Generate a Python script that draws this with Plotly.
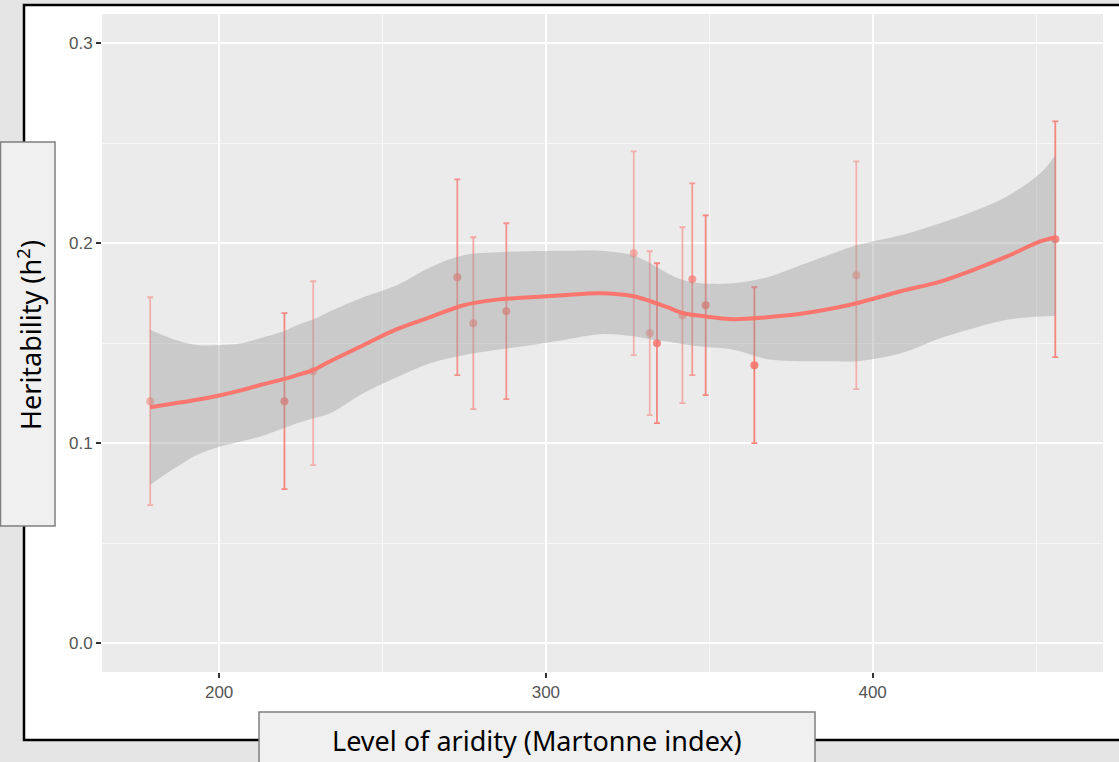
import plotly.graph_objects as go

# ---- data ----
aridity = [178.9, 220.0, 228.8, 272.9, 277.8, 287.9, 326.9, 331.8, 334.0,
           341.8, 344.8, 348.9, 363.8, 395.0, 455.9]
heritability = [0.121, 0.121, 0.136, 0.183, 0.160, 0.166, 0.195, 0.155, 0.150,
                0.164, 0.182, 0.169, 0.139, 0.184, 0.202]
h_low = [0.069, 0.077, 0.089, 0.134, 0.117, 0.122, 0.144, 0.114, 0.110,
         0.120, 0.134, 0.124, 0.100, 0.127, 0.143]
h_high = [0.173, 0.165, 0.181, 0.232, 0.203, 0.210, 0.246, 0.196, 0.190,
          0.208, 0.230, 0.214, 0.178, 0.241, 0.261]

smooth_x = [178.9, 186, 193.2, 200.4, 207, 212.6, 219.7, 223.8, 228.9, 234,
            244.1, 254.4, 264.6, 274.8, 285.1, 295.3, 305, 316.7, 326.8, 332,
            337.2, 342.1, 347.3, 357.4, 367.8, 377.9, 388, 395.1, 408.6, 420.7,
            430.9, 441.1, 451.3, 456]
smooth_fit = [0.1180, 0.1198, 0.1217, 0.1240, 0.1265, 0.1291, 0.1320, 0.1340,
              0.1367, 0.1410, 0.1490, 0.1570, 0.1630, 0.1690, 0.1718, 0.1730,
              0.1740, 0.1750, 0.1735, 0.1710, 0.1680, 0.1650, 0.1637, 0.1620,
              0.1630, 0.1647, 0.1675, 0.1700, 0.1760, 0.1808, 0.1867, 0.1934,
              0.2009, 0.2030]
smooth_upper = [0.1567, 0.1520, 0.1491, 0.1491, 0.1500, 0.1525, 0.1560, 0.1590,
                0.1620, 0.1660, 0.1730, 0.1790, 0.1880, 0.1940, 0.1955, 0.1960,
                0.1962, 0.1962, 0.1938, 0.1900, 0.1850, 0.1815, 0.1800, 0.1800,
                0.1830, 0.1890, 0.1950, 0.1990, 0.2040, 0.2100, 0.2160, 0.2234,
                0.2350, 0.2443]
smooth_lower = [0.0791, 0.0870, 0.0941, 0.0983, 0.1010, 0.1033, 0.1075, 0.1100,
                0.1125, 0.1150, 0.1250, 0.1330, 0.1400, 0.1440, 0.1467, 0.1490,
                0.1515, 0.1545, 0.1535, 0.1520, 0.1508, 0.1495, 0.1483, 0.1467,
                0.1420, 0.1410, 0.1410, 0.1410, 0.1450, 0.1525, 0.1575, 0.1617,
                0.1633, 0.1637]

x_ticks = [200, 300, 400]
y_ticks = [0.0, 0.1, 0.2, 0.3]
x_title = "Level of aridity (Martonne index)"
y_title = "Heritability (h<sup>2</sup>)"

# ---- styling ----
RED = (248, 118, 109)
bar_opacity = [0.5, 0.85, 0.5, 0.75, 0.6, 0.75, 0.5, 0.5, 0.85, 0.55, 0.7,
               0.85, 0.9, 0.5, 0.85]

W, H = 1119, 762
ML, MR, MT, MB = 102, 16, 14, 90
PW, PH = W - ML - MR, H - MT - MB


def px(x):
    return (x - ML) / PW


def py(y):
    return (H - MB - y) / PH


fig = go.Figure()

for xv, yv, lo, hi, op in zip(aridity, heritability, h_low, h_high, bar_opacity):
    col = "rgba(%d,%d,%d,%.2f)" % (RED + (op,))
    fig.add_trace(go.Scatter(
        x=[xv], y=[yv], mode="markers",
        marker=dict(size=8, color=col, line=dict(width=0)),
        error_y=dict(type="data", symmetric=False, array=[hi - yv],
                     arrayminus=[yv - lo], color=col, thickness=1.8, width=3),
        showlegend=False, hoverinfo="skip"))

fig.add_trace(go.Scatter(x=smooth_x, y=smooth_lower, mode="lines",
                         line=dict(width=0, shape="spline"),
                         showlegend=False, hoverinfo="skip"))
fig.add_trace(go.Scatter(x=smooth_x, y=smooth_upper, mode="lines",
                         line=dict(width=0, shape="spline"), fill="tonexty",
                         fillcolor="rgba(153,153,153,0.4)",
                         showlegend=False, hoverinfo="skip"))
fig.add_trace(go.Scatter(x=smooth_x, y=smooth_fit, mode="lines",
                         line=dict(color="rgb(248,118,109)", width=4,
                                   shape="spline"),
                         showlegend=False, hoverinfo="skip"))

shapes = [
    # white frame with black border
    dict(type="rect", xref="paper", yref="paper", layer="below",
         x0=px(24), x1=px(1160), y0=py(740), y1=py(5),
         fillcolor="white", line=dict(color="black", width=2.5)),
    # grey panel
    dict(type="rect", xref="paper", yref="paper", layer="below",
         x0=0, x1=1, y0=0, y1=1, fillcolor="#EBEBEB", line=dict(width=0)),
    # y title box
    dict(type="rect", xref="paper", yref="paper", layer="above",
         x0=px(0.5), x1=px(55), y0=py(526), y1=py(142),
         fillcolor="#F0F0F0", line=dict(color="#7F7F7F", width=1.5)),
    # x title box
    dict(type="rect", xref="paper", yref="paper", layer="above",
         x0=px(259), x1=px(815), y0=py(775), y1=py(712),
         fillcolor="#F0F0F0", line=dict(color="#7F7F7F", width=1.5)),
]

annotations = [
    dict(text=y_title, xref="paper", yref="paper", x=px(29), y=py(335),
         textangle=-90, showarrow=False, xanchor="center", yanchor="middle",
         font=dict(family="Noto Sans", size=27, color="black")),
    dict(text=x_title, xref="paper", yref="paper", x=px(537), y=py(740),
         showarrow=False, xanchor="center", yanchor="middle",
         font=dict(family="Noto Sans", size=27, color="black")),
]

axis_common = dict(
    showline=False, zeroline=False, showgrid=True, gridcolor="white",
    gridwidth=1.6, ticks="outside", ticklen=5, tickwidth=1.5,
    tickcolor="#333333",
    tickfont=dict(family="Liberation Sans", size=17, color="#555555"),
)

fig.update_layout(
    width=W, height=H,
    margin=dict(l=ML, r=MR, t=MT, b=MB, pad=0),
    paper_bgcolor="#E5E5E5", plot_bgcolor="rgba(0,0,0,0)",
    shapes=shapes, annotations=annotations,
    xaxis=dict(range=[164.16, 470.5], tickvals=x_ticks,
               ticktext=[str(v) for v in x_ticks],
               minor=dict(dtick=50, tick0=0, showgrid=True,
                          gridcolor="rgba(255,255,255,0.6)", gridwidth=0.8,
                          ticks=""),
               **axis_common),
    yaxis=dict(range=[-0.0145, 0.3147], tickvals=y_ticks,
               ticktext=["%.1f" % v for v in y_ticks],
               minor=dict(dtick=0.05, tick0=0, showgrid=True,
                          gridcolor="rgba(255,255,255,0.6)", gridwidth=0.8,
                          ticks=""),
               **axis_common),
)

fig.write_html("out.html")
